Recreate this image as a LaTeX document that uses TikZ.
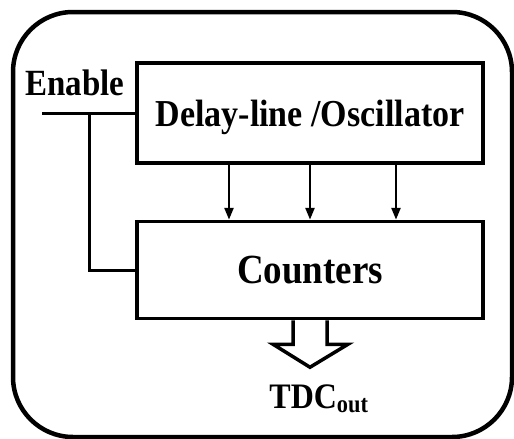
\documentclass[tikz,border=0pt]{standalone}
\usepackage{fontspec}
\setmainfont{Liberation Serif}
\usetikzlibrary{arrows.meta}

% Text of the picture is drawn a little taller than wide
\newcommand{\tall}[1]{\scalebox{1}[1.12]{#1}}

\begin{document}
\begin{tikzpicture}[x=1pt, y=-1pt, >={Triangle[length=12pt,width=9pt]},
		block/.style={draw, line width=3.5pt, text depth=0pt},
		txt/.style={font=\fontsize{33}{40}\selectfont\bfseries},
		wire/.style={line width=3pt}]
		
		% Fix the page size
		\useasboundingbox (0,0) rectangle (514,439);
		
		% Draw the rounded outer frame
		\draw[line width=4.5pt, rounded corners=60pt] (13,12) rectangle (512,437);
		
		% Draw the two blocks
		\node[block, minimum width=346pt, minimum height=100pt, font=\fontsize{34}{40}\selectfont\bfseries]
			(delay) at (310,113) {\tall{Delay-line /Oscillator}};
		\node[block, minimum width=346pt, minimum height=97pt, font=\fontsize{37}{40}\selectfont\bfseries]
			(counters) at (310,270) {\tall{Counters}};
		
		% Enable input and its branch
		\node[txt, anchor=base] (enable) at (75,95) {\tall{Enable}};
		\coordinate (en) at (42,113);
		\coordinate (split) at (89,113);
		\draw[wire] (en) -- (delay.west);
		\draw[wire] (split) |- (counters.west);
		
		% Taps from the delay-line to the counters
		\foreach \x [count=\i] in {229,310,396} {
			\coordinate (tap\i) at (\x,0);
			\draw[->, line width=2.5pt] (delay.south -| tap\i) -- (counters.north -| tap\i);
		}
		
		% Draw the hollow output arrow
		\draw[line width=3.5pt, line join=miter] (counters.south) ++(-17,0) -- ++(0,24) -- ++(-20,0)
			-- ++(37,23) -- ++(38,-23) -- ++(-21,0) -- ++(0,-24);
		
		% Add the output label
		\node[txt, anchor=base, font=\fontsize{32}{40}\selectfont\bfseries] (tdc) at (319,408) {\tall{TDC\textsubscript{out}}};
		
	\end{tikzpicture}
\end{document}
